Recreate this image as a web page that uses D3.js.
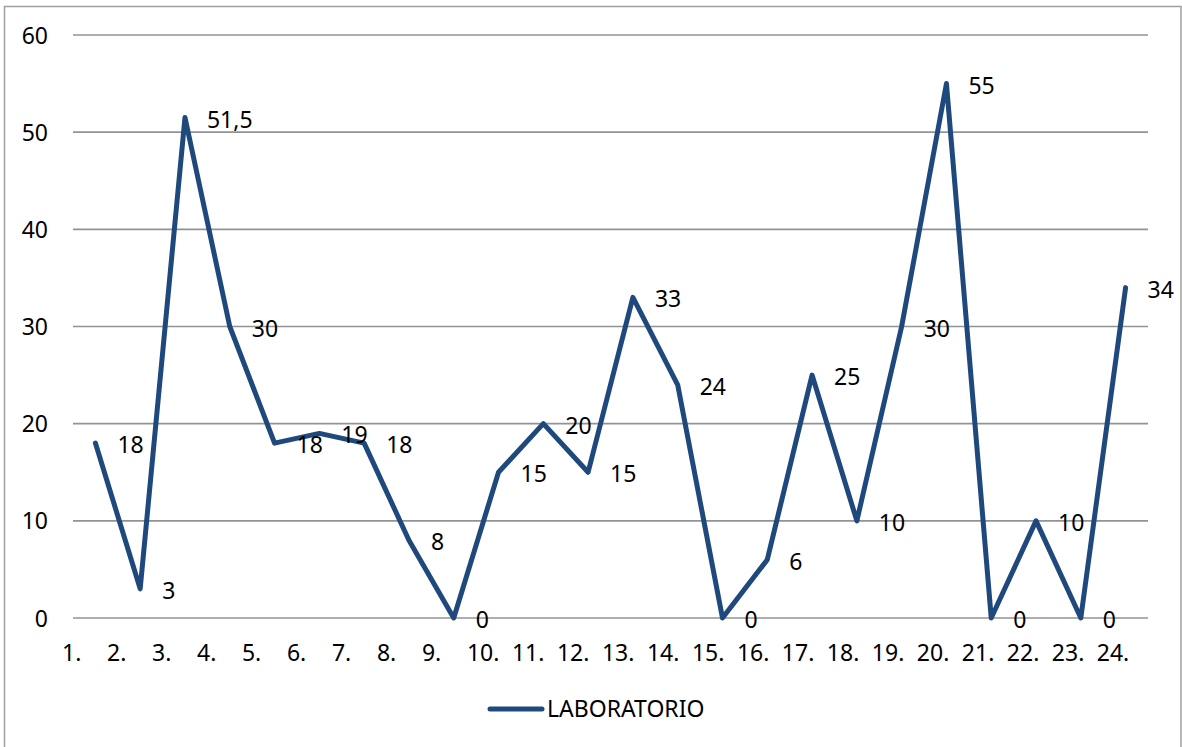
<!DOCTYPE html>
<html>
<head>
<meta charset="utf-8">
<script src="https://cdn.jsdelivr.net/npm/d3@7"></script>
<style>
  html, body { margin: 0; padding: 0; background: #fff; }
  svg { display: block; }
  text { font-family: "Noto Sans", "Open Sans", sans-serif; fill: #000; }
</style>
</head>
<body>
<svg id="chart" width="1182" height="747"></svg>
<script>
const categories = ["1.","2.","3.","4.","5.","6.","7.","8.","9.","10.","11.","12.","13.","14.","15.","16.","17.","18.","19.","20.","21.","22.","23.","24."];
const values = [18, 3, 51.5, 30, 18, 19, 18, 8, 0, 15, 20, 15, 33, 24, 0, 6, 25, 10, 30, 55, 0, 10, 0, 34];
const valueLabels = ["18","3","51,5","30","18","19","18","8","0","15","20","15","33","24","0","6","25","10","30","55","0","10","0","34"];
const yTicks = [0, 10, 20, 30, 40, 50, 60];
const seriesName = "LABORATORIO";

const svg = d3.select("#chart");
const color = "#1F497D";
const fontSize = 23;

// outer border
svg.append("rect")
  .attr("x", 4.5).attr("y", 6.5)
  .attr("width", 1176.5).attr("height", 745)
  .attr("fill", "none").attr("stroke", "#a0a0a0").attr("stroke-width", 1.5);

const plot = { left: 73, right: 1148, top: 35, bottom: 618 };

const x = d3.scaleBand().domain(categories).range([plot.left, plot.right]).padding(0);
const y = d3.scaleLinear().domain([0, 60]).range([plot.bottom, plot.top]);

// gridlines
svg.append("g").selectAll("line").data(yTicks).join("line")
  .attr("x1", plot.left).attr("x2", plot.right)
  .attr("y1", d => y(d)).attr("y2", d => y(d))
  .attr("stroke", "#939393").attr("stroke-width", 1.6);

// y axis labels
const yAxis = d3.axisLeft(y).tickValues(yTicks).tickSize(0).tickPadding(0).tickFormat(d3.format("d"));
const gy = svg.append("g").attr("transform", `translate(48,0)`).call(yAxis);
gy.select(".domain").remove();
gy.selectAll("text").attr("font-size", fontSize).attr("font-family", "Noto Sans").attr("fill", "#000").attr("dy", "0.35em");

// x axis labels
const xAxis = d3.axisBottom(x).tickSize(0).tickPadding(0);
const gx = svg.append("g").attr("transform", `translate(0,${plot.bottom})`).call(xAxis);
gx.select(".domain").remove();
gx.selectAll(".tick").attr("transform", (d, i) => `translate(${x(d) - 11 + i * 0.2},0)`);
gx.selectAll("text")
  .attr("font-size", fontSize).attr("font-family", "Noto Sans").attr("fill", "#000")
  .attr("text-anchor", "start").attr("y", 43).attr("dy", 0);

// line
const cx = d => x(d) + x.bandwidth() / 2;
const line = d3.line()
  .x((d, i) => cx(categories[i]))
  .y(d => y(d));
svg.append("path")
  .datum(values)
  .attr("d", line)
  .attr("fill", "none")
  .attr("stroke", color)
  .attr("stroke-width", 5)
  .attr("stroke-linejoin", "round")
  .attr("stroke-linecap", "round");

// data labels
svg.append("g").selectAll("text").data(values).join("text")
  .attr("x", (d, i) => cx(categories[i]) + 22)
  .attr("y", d => y(d) + 2)
  .attr("dy", "0.35em")
  .attr("font-size", fontSize)
  .text((d, i) => valueLabels[i]);

// legend
const lg = svg.append("g");
lg.append("line")
  .attr("x1", 490).attr("x2", 542).attr("y1", 709).attr("y2", 709)
  .attr("stroke", color).attr("stroke-width", 5).attr("stroke-linecap", "round");
lg.append("text")
  .attr("x", 547).attr("y", 709).attr("dy", "0.35em")
  .attr("font-size", fontSize)
  .text(seriesName);
</script>
</body>
</html>
